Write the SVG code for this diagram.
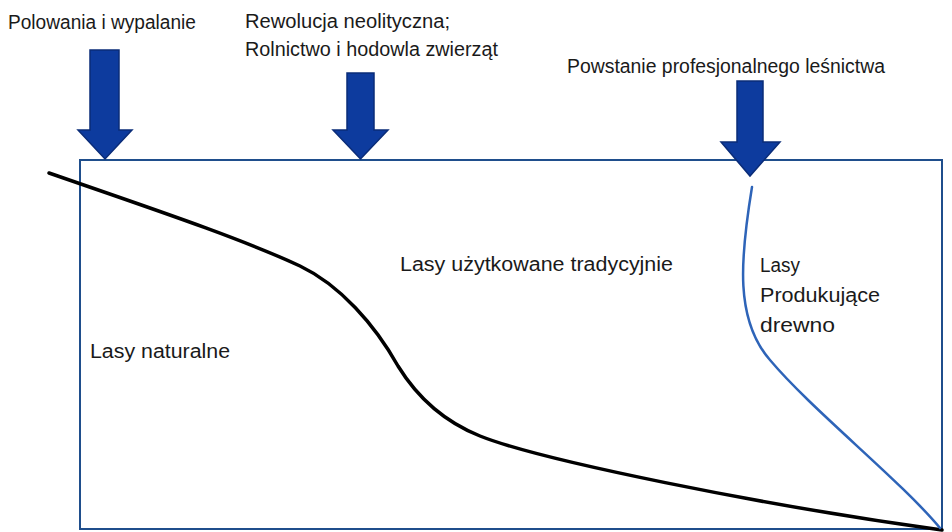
<svg xmlns="http://www.w3.org/2000/svg" width="952" height="532" viewBox="0 0 952 532">
<style>
.t{font-family:"Liberation Sans",Arial,sans-serif;font-size:20px;fill:#1a1a1a}
.arr{fill:#0d3b9e;stroke:#0a2c78;stroke-width:1.5;stroke-linejoin:miter}
.frame{fill:none;stroke:#1f4e8c;stroke-width:2}
</style>
<rect width="952" height="532" fill="#ffffff"/>
<g id="frame"><rect class="frame" x="80" y="160" width="862" height="369"/></g>
<g id="connectors">
<path d="M49,173 C150,208 240,238 300,266 C340,285 375,325 398,366 C414,392 440,420 480,436 C540,460 760,505 942,530" fill="none" stroke="#000" stroke-width="3.5" stroke-linecap="round"/>
<path d="M752,187 C740,260 735,320 770,360 C812,410 900,480 940,528" fill="none" stroke="#2e64b8" stroke-width="2.5" stroke-linecap="round"/>
</g>
<g id="arrow1"><polygon class="arr" points="90,50 119,50 119,130 132,130 105,159 78,130 90,130"/></g>
<g id="arrow2"><polygon class="arr" points="347,73 374,73 374,130 388,130 360.5,159 333,130 347,130"/></g>
<g id="arrow3"><polygon class="arr" points="737,81 763,81 763,142 780,142 750,176 721,142 737,142"/></g>
<g id="label-polowania"><text class="t" x="8" y="29" textLength="188" lengthAdjust="spacingAndGlyphs">Polowania i wypalanie</text></g>
<g id="label-rewolucja"><text class="t" x="245" y="28" textLength="205" lengthAdjust="spacingAndGlyphs">Rewolucja neolityczna;</text><text class="t" x="245" y="56" textLength="253" lengthAdjust="spacingAndGlyphs">Rolnictwo i hodowla zwierząt</text></g>
<g id="label-powstanie"><text class="t" x="567" y="73" textLength="318" lengthAdjust="spacingAndGlyphs">Powstanie profesjonalnego leśnictwa</text></g>
<g id="label-tradycyjne"><text class="t" x="400" y="271" textLength="273" lengthAdjust="spacingAndGlyphs">Lasy użytkowane tradycyjnie</text></g>
<g id="label-produkujace"><text class="t" x="760" y="272" textLength="40" lengthAdjust="spacingAndGlyphs">Lasy</text><text class="t" x="760" y="302" textLength="120" lengthAdjust="spacingAndGlyphs">Produkujące</text><text class="t" x="760" y="332" textLength="75" lengthAdjust="spacingAndGlyphs">drewno</text></g>
<g id="label-naturalne"><text class="t" x="90" y="358" textLength="140" lengthAdjust="spacingAndGlyphs">Lasy naturalne</text></g>
</svg>
